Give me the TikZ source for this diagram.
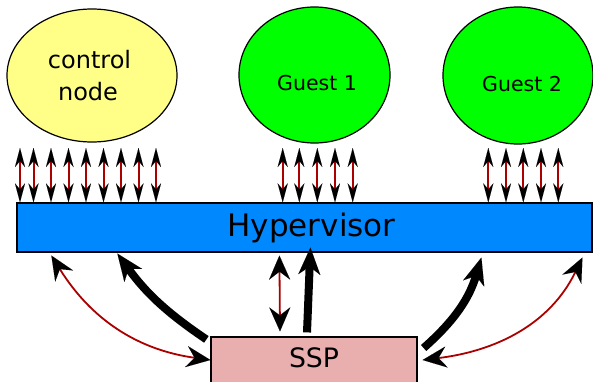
\documentclass[tikz,border=0pt]{standalone}
\usepackage{fontspec}
\setmainfont{DejaVu Sans}
\usetikzlibrary{arrows.meta,shapes.geometric,calc}
\definecolor{ctrlyellow}{HTML}{FFFF88}
\definecolor{guestgreen}{HTML}{00FF00}
\definecolor{hypblue}{HTML}{0088FF}
\definecolor{ssppink}{HTML}{E9AFAF}
\definecolor{linkred}{HTML}{AA0000}
\begin{document}
\begin{tikzpicture}[x=1pt,y=1pt,
  smallhead/.tip={Stealth[length=19pt,width=10pt,inset=6pt,color=black,line width=0.01pt]},
  bighead/.tip={Stealth[length=24pt,width=21pt,inset=8pt,color=black,line width=0.01pt]},
  flowhead/.tip={Stealth[length=27pt,width=22pt,inset=8pt,color=black,line width=0.01pt]},
  blob/.style={ellipse, draw=black, line width=1.2pt, inner sep=0pt},
  boxnode/.style={rectangle, draw=black, line width=1.2pt, inner sep=0pt},
  portarrow/.style={draw=linkred, line width=2pt, smallhead-smallhead},
  redlink/.style={draw=linkred, line width=1.8pt, bighead-bighead},
  bigflow/.style={draw=black, line width=8pt, -flowhead}]
\useasboundingbox (0,0) rectangle (593,381);

\node[blob, fill=ctrlyellow, minimum width=170pt, minimum height=133pt, align=center,
  font=\fontsize{24}{32}\selectfont] (ctrl) at (92,305.5) {control\hspace*{5pt}\\node\hspace*{8pt}};
\node[blob, fill=guestgreen, minimum width=151pt, minimum height=136pt,
  font=\fontsize{20.5}{24}\selectfont, text height=31pt, text depth=0pt] (g1) at (314.5,306) {\hspace*{5pt}Guest 1};
\node[blob, fill=guestgreen, minimum width=150pt, minimum height=137pt,
  font=\fontsize{20.5}{24}\selectfont, text height=31pt, text depth=0pt] (g2) at (518,305.5) {\hspace*{8pt}Guest 2};

\node[boxnode, fill=hypblue, minimum width=575pt, minimum height=49pt,
  font=\fontsize{31}{36}\selectfont] (hyp) at (304.5,153.5) {\hspace*{14pt}Hypervisor};
\node[boxnode, fill=ssppink, minimum width=206pt, minimum height=46pt,
  font=\fontsize{26.7}{32}\selectfont, text depth=5pt] (ssp) at (314,21) {SSP};

\foreach \x in {20,33.5,51,68.5,86,103.5,121,138.5,156,282.7,299.3,317.3,335,352.7,488.3,506,523.3,541,558.3}
  \draw[portarrow] (\x,233) -- (\x,0 |- hyp.north);

\draw[redlink] ($(hyp.south west)+(263,-3)$) -- ($(ssp.north)+(-34,5)$);
\draw[redlink] (ssp.west) to[out=172,in=302] ($(hyp.south west)+(35,-3)$);
\draw[redlink] ($(ssp.east)+(5,0)$) to[out=7,in=244] ($(hyp.south west)+(566,-5)$);

\draw[bigflow] ($(ssp.north west)+(-4,-3)$) to[bend left=10] ($(hyp.south west)+(101,-1)$);
\draw[bigflow] ($(ssp.north)+(-7,4)$) -- ($(hyp.south west)+(294,5)$);
\draw[bigflow] ($(ssp.east)+(6,12)$) to[bend right=16] ($(hyp.south west)+(465,-5)$);
\end{tikzpicture}
\end{document}
